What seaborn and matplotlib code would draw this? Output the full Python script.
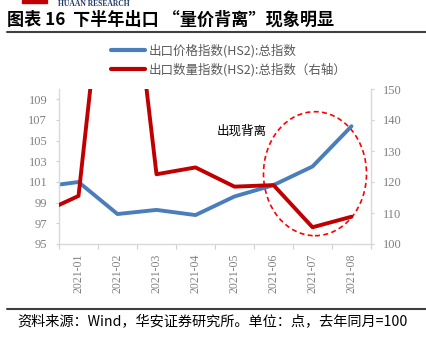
import matplotlib
matplotlib.use("Agg")
import matplotlib.pyplot as plt
import seaborn as sns
import numpy as np
import pandas as pd
from matplotlib.patches import Ellipse, Rectangle
from matplotlib.lines import Line2D

# ---- data ----
months = ["2020-12", "2021-01", "2021-02", "2021-03", "2021-04",
          "2021-05", "2021-06", "2021-07", "2021-08"]
price_index = [100.5, 101.0, 97.9, 98.3, 97.8, 99.6, 100.7, 102.5, 106.4]
volume_index = [109.7, 115.5, 230.0, 122.5, 124.7, 118.5, 119.0, 105.4, 108.8]
left_ticks = [95, 97, 99, 101, 103, 105, 107, 109]
right_ticks = [100, 110, 120, 130, 140, 150]
label_price = "出口价格指数(HS2):总指数"
label_volume = "出口数量指数(HS2):总指数（右轴）"
title = "图表 16  下半年出口 “量价背离”现象明显"
source = "资料来源：Wind，华安证券研究所。单位：点，去年同月=100"
note = "出现背离"

sns.set_theme(style="white")
plt.rcParams['font.family'] = ['Noto Sans CJK SC', 'DejaVu Sans']

df = pd.DataFrame({"pos": np.arange(len(months)), "month": months,
                   "price": price_index, "volume": volume_index})

W, H = 427, 340
fig = plt.figure(figsize=(W / 100, H / 100), dpi=100)
ax = fig.add_axes([59 / W, 1 - 244 / H, 312 / W, 155 / H])
ax2 = ax.twinx()

blue = "#4A7EBB"
red = "#C00000"
sns.lineplot(data=df, x="pos", y="price", ax=ax, color=blue, linewidth=2.8,
             label=label_price, legend=False)
sns.lineplot(data=df, x="pos", y="volume", ax=ax2, color=red, linewidth=2.8,
             label=label_volume, legend=False)

ax.set_xlim(0.5, len(months) - 0.5)
ax.set_ylim(95, 110)
ax2.set_ylim(100, 150)
ax.set_yticks(left_ticks)
ax2.set_yticks(right_ticks)
ax.set_xlabel("")
ax.set_ylabel("")
ax2.set_ylabel("")

pos = df["pos"].values[1:]
ax.set_xticks(pos)
ax.set_xticklabels(months[1:], rotation=90, fontfamily="Liberation Serif",
                   fontsize=8.5, color="#808080")
ax.set_xticks(np.arange(0.5, len(months) - 0.4, 1.0), minor=True)
ax.tick_params(axis="x", which="major", length=0, pad=7)
ax.tick_params(axis="x", which="minor", length=3.5, width=0.8, color="#D0D0D0",
               direction="out", bottom=True)

for a in (ax, ax2):
    for lab in a.get_yticklabels():
        lab.set_fontfamily("Liberation Serif")
        lab.set_fontsize(9)
        lab.set_color("#808080")
    a.tick_params(axis="y", length=2.5, width=0.8, color="#D0D0D0", pad=6,
                  direction="out")
    for s in a.spines.values():
        s.set_visible(False)
ax.spines["left"].set_visible(True)
ax.spines["bottom"].set_visible(True)
ax2.spines["right"].set_visible(True)
for s in (ax.spines["left"], ax.spines["bottom"], ax2.spines["right"]):
    s.set_color("#D9D9D9")
    s.set_linewidth(1.0)
ax.grid(False)
ax2.grid(False)

# legend
handles = [Line2D([], [], color=blue, lw=3), Line2D([], [], color=red, lw=3)]
leg = ax.legend(handles, [label_price, label_volume], loc="upper left",
                bbox_to_anchor=(111 / W, 1 - 44 / H), bbox_transform=fig.transFigure,
                frameon=False, borderpad=0, borderaxespad=0, handlelength=2.7,
                handletextpad=0.3, labelspacing=0.45, fontsize=9)
for t in leg.get_texts():
    t.set_color("#595959")

# annotation
ax.text((217 - 59) / 312, (244 - 131) / 155, note, transform=ax.transAxes,
        fontsize=9, color="#000000", va="center", ha="left")
ell = Ellipse(((315 - 59) / 312, (244 - 173.7) / 155), 103 / 312, 124 / 155,
              transform=ax.transAxes, fill=False, edgecolor="#FF0000",
              linestyle=(0, (3, 2)), linewidth=1.2, clip_on=False)
ax.add_patch(ell)

# header / footer
fig.add_artist(Rectangle((22 / W, 1 - 2.5 / H), 25 / W, 2.5 / H,
                         transform=fig.transFigure, color="#C00000"))
fig.text(58 / W, 1 - 0.5 / H, "HUAAN RESEARCH", fontsize=5.5, fontweight="bold",
         color="#1F3864", fontfamily="Liberation Serif", va="top", ha="left")
fig.text(7 / W, 1 - 20 / H, title, fontsize=12.3, fontweight="bold",
         color="#000000", va="center", ha="left")
fig.add_artist(Line2D([7 / W, 1], [1 - 32 / H, 1 - 32 / H],
                      transform=fig.transFigure, color="#404040", lw=1.5))
fig.add_artist(Line2D([7 / W, 1], [1 - 309 / H, 1 - 309 / H],
                      transform=fig.transFigure, color="#404040", lw=1.5))
fig.text(17 / W, 1 - 322 / H, source, fontsize=10.2, color="#000000",
         va="center", ha="left")

fig.savefig("out.png", dpi=100)
